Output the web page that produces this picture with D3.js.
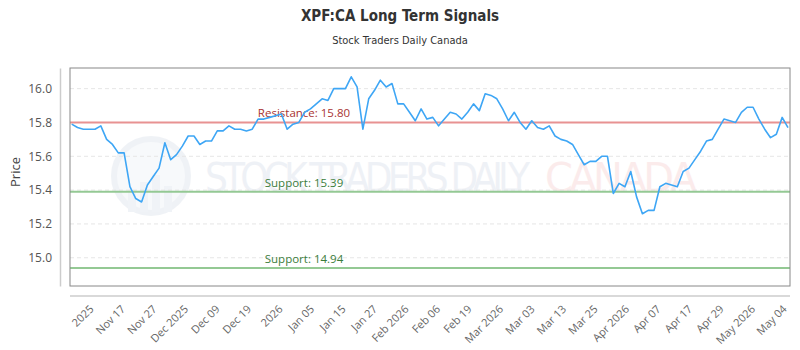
<!DOCTYPE html>
<html>
<head>
<meta charset="utf-8">
<script src="https://cdn.jsdelivr.net/npm/d3@7"></script>
<style>
  body { margin: 0; background: #fff; }
  text { font-family: "Open Sans", sans-serif; }
</style>
</head>
<body>
<svg id="chart" width="800" height="350"></svg>
<script>
// closing prices, one per session
const prices = [
  15.79, 15.77, 15.76, 15.76, 15.76, 15.78, 15.70, 15.67, 15.62, 15.62,
  15.42, 15.35, 15.33, 15.43, 15.48, 15.53, 15.68, 15.58, 15.61, 15.66,
  15.72, 15.72, 15.67, 15.69, 15.69, 15.75, 15.75, 15.78, 15.76, 15.76,
  15.75, 15.76, 15.82, 15.82, 15.83, 15.84, 15.85, 15.76, 15.79, 15.80,
  15.86, 15.88, 15.91, 15.94, 15.93, 16.00, 16.00, 16.00, 16.07, 16.01,
  15.76, 15.94, 15.99, 16.05, 16.01, 16.03, 15.91, 15.91, 15.86, 15.81,
  15.88, 15.82, 15.83, 15.78, 15.82, 15.86, 15.85, 15.82, 15.86, 15.91,
  15.87, 15.97, 15.96, 15.94, 15.88, 15.81, 15.86, 15.80, 15.76, 15.81,
  15.77, 15.76, 15.78, 15.72, 15.70, 15.69, 15.67, 15.61, 15.55, 15.57,
  15.57, 15.60, 15.60, 15.38, 15.44, 15.42, 15.51, 15.36, 15.26, 15.28,
  15.28, 15.42, 15.44, 15.43, 15.42, 15.51, 15.53, 15.58, 15.63, 15.69,
  15.70, 15.76, 15.82, 15.81, 15.80, 15.86, 15.89, 15.89, 15.82, 15.76,
  15.71, 15.73, 15.83, 15.77
];

const tickLabels = [
  "2025", "Nov 17", "Nov 27", "Dec 2025", "Dec 09", "Dec 19", "2026",
  "Jan 05", "Jan 15", "Jan 27", "Feb 2026", "Feb 06", "Feb 19", "Mar 2026",
  "Mar 03", "Mar 13", "Mar 25", "Apr 2026", "Apr 07", "Apr 17", "Apr 29",
  "May 2026", "May 04"
];

const levelNames = ["Resistance", "Support", "Support"];
const levelValues = [15.80, 15.39, 14.94];

const svg = d3.select("#chart");
const W = 800, H = 350;
const box = { left: 70, right: 790, top: 68, bottom: 286 };

const x = d3.scaleLinear()
  .domain([0, prices.length - 1])
  .range([box.left + 1.7, box.right - 2]);

const y = d3.scaleLinear()
  .domain([14.833, 16.122])
  .range([box.bottom, box.top]);

// ticks spread evenly along the sessions
const xTick = d3.scalePoint()
  .domain(tickLabels)
  .range([x(3), x(122)]);

// titles
svg.append("text")
  .attr("x", W / 2).attr("y", 21)
  .attr("text-anchor", "middle")
  .style("font-family", "'DejaVu Sans Condensed', 'Liberation Sans Narrow', sans-serif")
  .style("font-weight", "bold")
  .style("font-size", "15px")
  .attr("fill", "#333")
  .text("XPF:CA Long Term Signals");

svg.append("text")
  .attr("x", W / 2).attr("y", 44)
  .attr("text-anchor", "middle")
  .style("font-family", "'DejaVu Sans Condensed', 'Liberation Sans Narrow', sans-serif")
  .style("font-size", "11px")
  .attr("fill", "#333")
  .text("Stock Traders Daily Canada");

// watermark
const wm = svg.append("g").attr("opacity", 0.5);
wm.append("circle")
  .attr("cx", 151).attr("cy", 176).attr("r", 37)
  .attr("fill", "#f1f4f8")
  .attr("stroke", "#e1e7ef").attr("stroke-width", 6);
[[128, 190, 8, 22], [140, 182, 8, 30], [152, 175, 8, 37], [164, 186, 8, 26]].forEach(b => {
  wm.append("rect")
    .attr("x", b[0]).attr("y", b[1]).attr("width", b[2]).attr("height", b[3])
    .attr("fill", "#e3e9f1");
});
wm.append("text")
  .attr("x", 205).attr("y", 192)
  .attr("textLength", 325)
  .style("font-family", "'DejaVu Sans Condensed', sans-serif")
  .style("font-size", "40px")
  .attr("fill", "#dfe5ee")
  .text("STOCK TRADERS DAILY");
wm.append("text")
  .attr("x", 545).attr("y", 192)
  .attr("textLength", 152)
  .style("font-family", "'DejaVu Sans', sans-serif")
  .style("font-size", "40px")
  .attr("fill", "#f9d9d9")
  .text("CANADA");

// grid
svg.append("g")
  .selectAll("line")
  .data(y.ticks(6))
  .join("line")
  .attr("x1", box.left).attr("x2", box.right)
  .attr("y1", d => y(d)).attr("y2", d => y(d))
  .attr("stroke", "#e6e6e6")
  .attr("stroke-dasharray", "4,3");

// left axis
const yAxis = svg.append("g")
  .attr("transform", "translate(60,0)")
  .call(d3.axisLeft(y).ticks(6).tickFormat(d3.format(".1f")).tickSize(0).tickSizeOuter(0).tickPadding(8));
yAxis.select(".domain").attr("stroke", "#ccc").attr("stroke-width", 1.5);
yAxis.selectAll("text")
  .style("font-size", "12px")
  .attr("fill", "#555");

svg.append("text")
  .attr("transform", "translate(20,172) rotate(-90)")
  .attr("text-anchor", "middle")
  .style("font-size", "13px")
  .attr("fill", "#444")
  .text("Price");

// bottom axis
svg.append("line")
  .attr("x1", box.left).attr("x2", box.right)
  .attr("y1", 296).attr("y2", 296)
  .attr("stroke", "#ccc").attr("stroke-width", 1.5);

const xAxis = svg.append("g")
  .attr("transform", "translate(0,296)")
  .call(d3.axisBottom(xTick).tickSize(0));
xAxis.select(".domain").remove();
xAxis.selectAll("text")
  .attr("x", 0).attr("y", 0).attr("dy", "0.35em")
  .attr("text-anchor", "end")
  .attr("transform", "translate(2,11) rotate(-45)")
  .style("font-size", "11px")
  .attr("fill", "#666");

// levels
const lvl = svg.append("g")
  .selectAll("g")
  .data(levelValues)
  .join("g");
lvl.append("line")
  .attr("x1", box.left).attr("x2", box.right)
  .attr("y1", d => y(d)).attr("y2", d => y(d))
  .attr("stroke", (d, i) => i === 0 ? "#e89292" : "#94c994")
  .attr("stroke-width", 2);
lvl.append("text")
  .attr("x", 304)
  .attr("y", d => y(d) - 5)
  .attr("text-anchor", "middle")
  .style("font-size", "11.5px")
  .attr("fill", (d, i) => i === 0 ? "#a83232" : "#3b7d3b")
  .text((d, i) => levelNames[i] + ": " + d.toFixed(2));

// price line
const line = d3.line()
  .x((d, i) => x(i))
  .y(d => y(d));

svg.append("path")
  .datum(prices)
  .attr("d", line)
  .attr("fill", "none")
  .attr("stroke", "#3ea6f5")
  .attr("stroke-width", 1.6)
  .attr("stroke-linejoin", "round");

// plot frame
svg.append("rect")
  .attr("x", box.left).attr("y", box.top)
  .attr("width", box.right - box.left)
  .attr("height", box.bottom - box.top)
  .attr("fill", "none")
  .attr("stroke", "#888");
</script>
</body>
</html>
